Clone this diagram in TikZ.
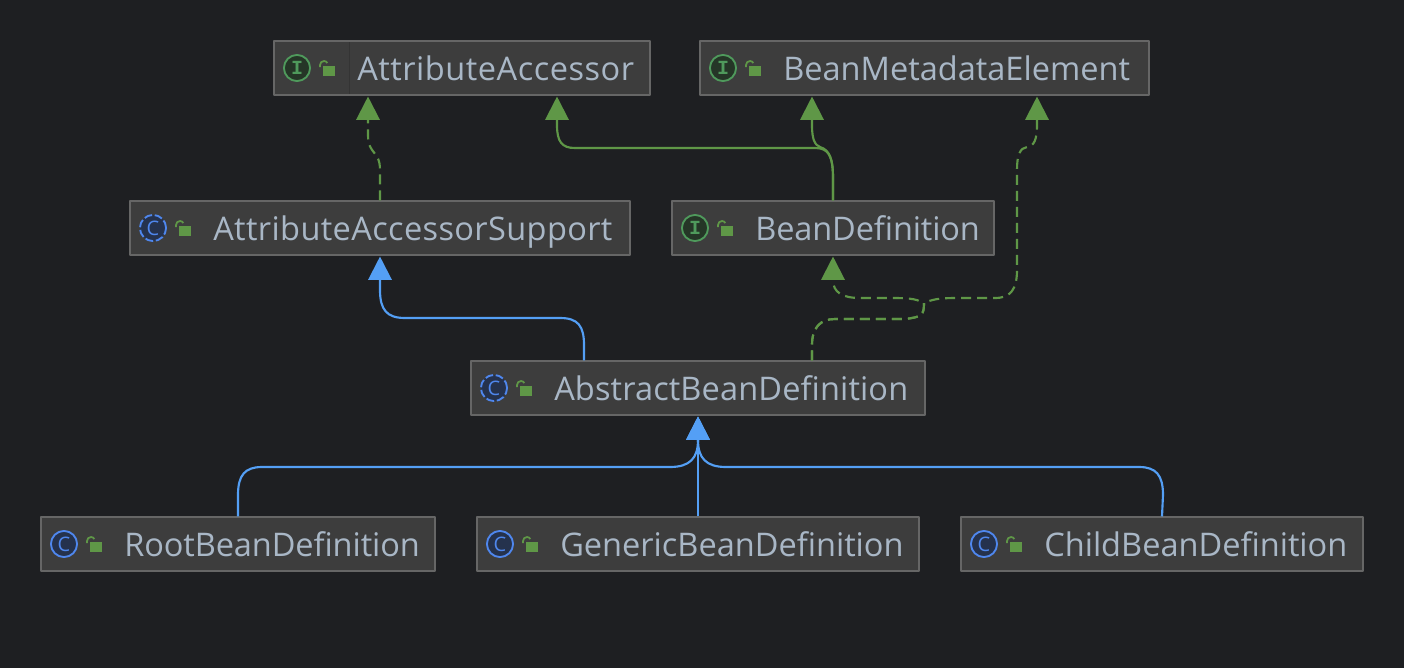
\documentclass[tikz,border=0pt]{standalone}
\usepackage{fontspec}
\setmainfont{Open Sans}
\newfontfamily\ringmono{Liberation Mono}
\usetikzlibrary{arrows.meta,calc}
\definecolor{canvas}{HTML}{1E1F22}
\definecolor{boxfill}{HTML}{3D3D3D}
\definecolor{boxline}{HTML}{666666}
\definecolor{namecolor}{HTML}{A9B7C6}
\definecolor{arrowgreen}{HTML}{5F9747}
\definecolor{arrowblue}{HTML}{549FF5}
\definecolor{ifaceline}{HTML}{4F9A5C}
\definecolor{ifacefill}{HTML}{253627}
\definecolor{classline}{HTML}{4F87EE}
\definecolor{classfill}{HTML}{25324D}
\newcommand{\ls}[1]{\addfontfeature{LetterSpace=#1}}
\tikzset{
	classbox/.style={draw=boxline,fill=boxfill,line width=0.8pt,minimum height=40.5pt,inner sep=0pt},
	classname/.style={anchor=base west,inner sep=0pt,text=namecolor,font=\fontsize{24.4}{28}\selectfont},
	ringI/.style={circle,draw=ifaceline,fill=ifacefill,line width=1.4pt,minimum size=19.6pt,inner sep=0pt,text=ifaceline,font=\fontsize{15}{15}\ringmono\bfseries},
	ringC/.style={circle,draw=classline,fill=classfill,line width=1.4pt,minimum size=19.6pt,inner sep=0pt,text=classline,font=\fontsize{15}{15}\selectfont},
	ringA/.style={ringC,dash pattern=on 6pt off 2pt},
	realize/.style={draw=arrowgreen,line width=1.6pt,dash pattern=on 7.5pt off 4.5pt,-{Triangle[width=17.5pt,length=17.5pt]}},
	inherit/.style={draw=arrowgreen,line width=1.6pt,-{Triangle[width=17.5pt,length=17.5pt]}},
	inheritb/.style={draw=arrowblue,line width=1.6pt,-{Triangle[width=17.5pt,length=17.5pt]}},
}
% name, left edge, middle height, width, ring, text
\newcommand{\classnode}[6]{
	\node[classbox,minimum width=#4*0.75pt] (#1) at ({#2+#4/2},#3) {};
	\node[ring#5] (#1 icon) at ({#2+23},#3) {\ifx#5A{}C\else#5\fi};
	\fill[arrowgreen] ({#2+49},{#3-2}) rectangle ({#2+61},{#3+8});
	\draw[arrowgreen,line width=1.3pt] ({#2+46},{#3-1}) -- ({#2+46},{#3-3}) arc (180:330:4);
	\node[classname] (#1 text) at ({#2+83},{#3+12}) {#6};
}
\begin{document}
\begin{tikzpicture}[x=0.75pt,y=-0.75pt,line join=round]
	\fill[canvas] (0,0) rectangle (1404,668);
	\classnode{access}{274}{68}{376}{I}{\ls{1.6}AttributeAccessor}
	\classnode{meta}{700}{68}{449}{I}{BeanMetadataElement}
	\classnode{support}{130}{228}{500}{A}{\ls{1.15}AttributeAccessorSupport}
	\classnode{defn}{672}{228}{322}{I}{\ls{-0.4}BeanDefinition}
	\classnode{abstract}{471}{388}{454}{A}{\ls{0.4}AbstractBeanDefinition}
	\classnode{root}{41}{544}{394}{C}{\ls{-0.3}RootBeanDefinition}
	\classnode{generic}{477}{544}{442}{C}{GenericBeanDefinition}
	\classnode{child}{961}{544}{402}{C}{ChildBeanDefinition}
	\draw[boxfill!85!black,line width=0.6pt] (349,42) -- (349,94);
	% interfaces
	\draw[realize] (support.north) -- (380,170) .. controls (380,150) and (368,155) .. (368,135) -- ($(access.south)+(-94,1)$);
	\draw[inherit] (defn.north) -- (833,178) .. controls (833,155) and (828,148) .. (815,148) -- (575,148) .. controls (562,148) and (557,142) .. (557,125) -- ($(access.south)+(95,1)$);
	\draw[inherit] (defn.north) -- (833,178) .. controls (833,160) and (830,150) .. (820,147) .. controls (815,145) and (812,140) .. (812,125) -- ($(meta.south)+(-112.5,1)$);
	\draw[realize] ($(abstract.north)+(114,0)$) -- (812,345) .. controls (812,328) and (820,319) .. (835,319) -- (905,319) .. controls (922,317) and (924,315) .. (924,303) .. controls (915,298) and (905,298) .. (890,298) -- (860,298) .. controls (842,298) and (833,292) .. (833,280) -- ($(defn.south)+(0,1)$);
	\draw[realize] ($(abstract.north)+(114,0)$) -- (812,345) .. controls (812,328) and (820,319) .. (835,319) -- (905,319) .. controls (922,317) and (924,315) .. (924,303) .. controls (935,298) and (945,298) .. (960,298) -- (995,298) .. controls (1010,298) and (1017,290) .. (1017,270) -- (1017,170) .. controls (1017,155) and (1020,148) .. (1027,147) .. controls (1034,146) and (1037,140) .. (1037,125) -- ($(meta.south)+(112.5,1)$);
	% classes
	\draw[inheritb] ($(abstract.north)-(114,0)$) -- (584,345) .. controls (584,326) and (578,318) .. (560,318) -- (405,318) .. controls (387,318) and (380,310) .. (380,290) -- ($(support.south)+(0,1)$);
	\draw[inheritb] (root.north) -- (238,495) .. controls (238,475) and (245,467) .. (262,467) -- (670,467) .. controls (690,467) and (698,458) .. (698,440) -- ($(abstract.south)+(0,1)$);
	\draw[inheritb] (generic.north) -- ($(abstract.south)+(0,1)$);
	\draw[inheritb] (child.north) -- (1163,495) .. controls (1163,475) and (1156,467) .. (1139,467) -- (726,467) .. controls (706,467) and (698,458) .. (698,440) -- ($(abstract.south)+(0,1)$);
\end{tikzpicture}
\end{document}
